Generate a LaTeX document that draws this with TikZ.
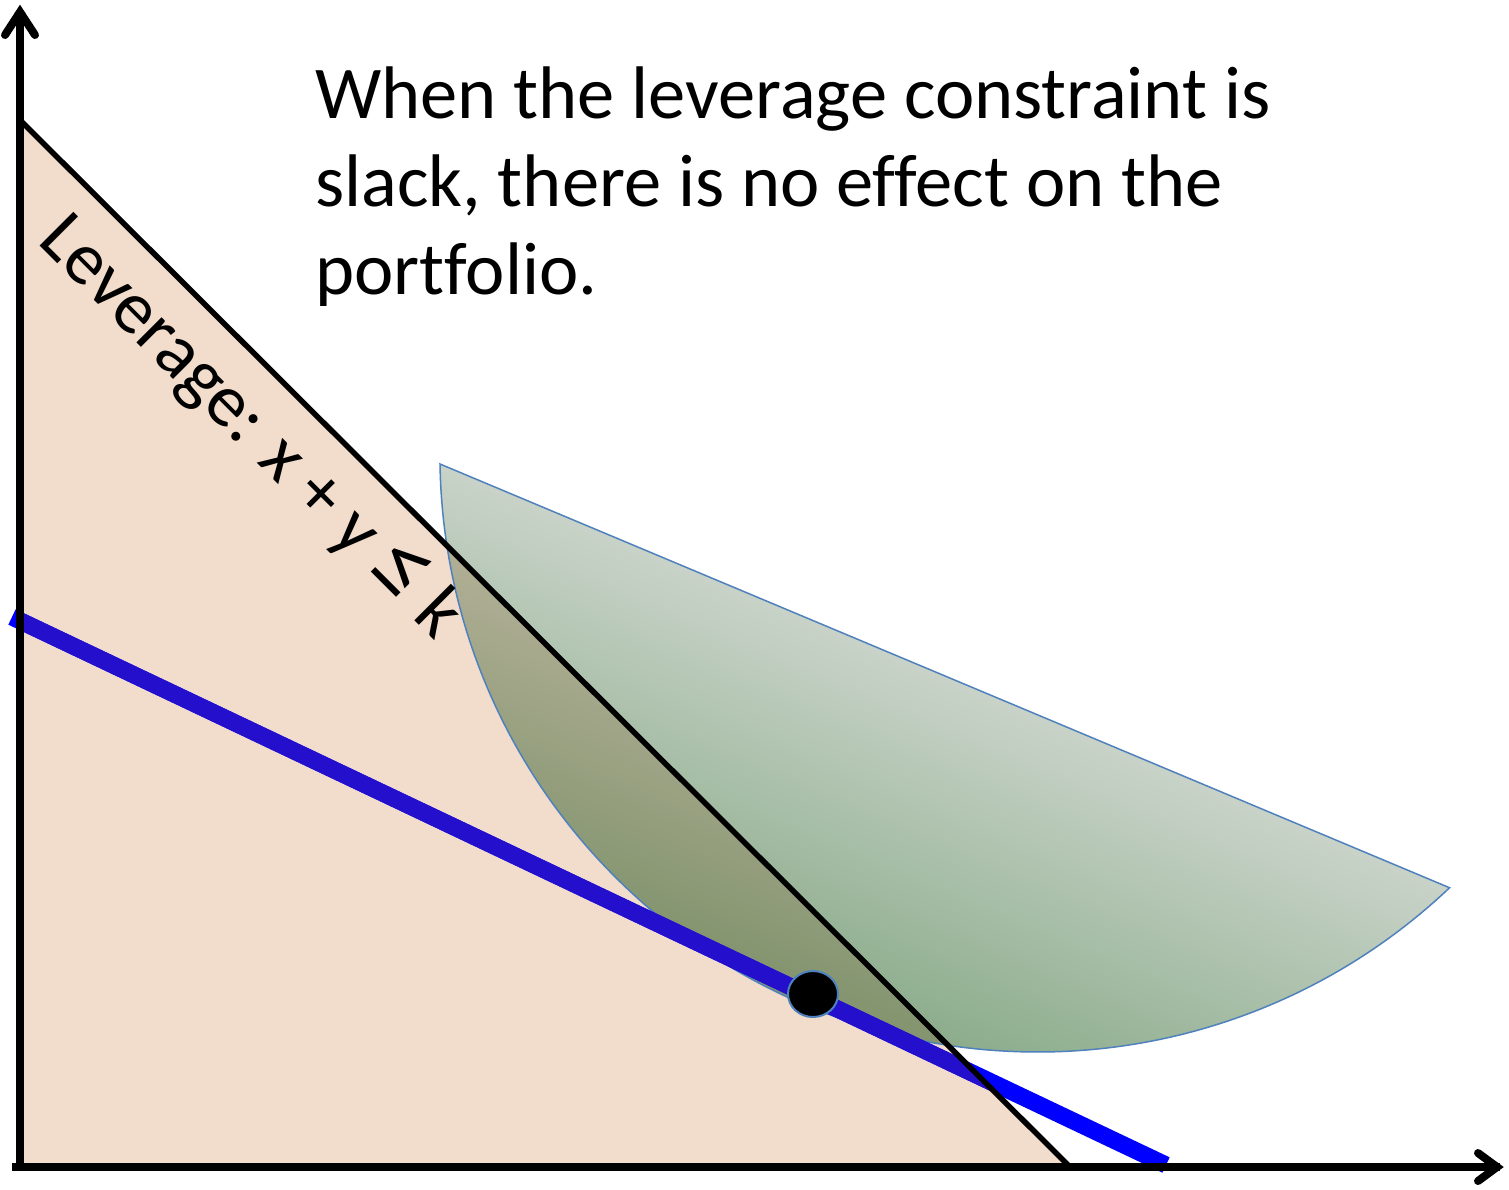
\documentclass[tikz,border=0pt]{standalone}
\usepackage{fontspec}
\setmainfont{Carlito}[Ligatures=NoCommon]
\usetikzlibrary{shapes.geometric}
\definecolor{peach}{HTML}{F2DDCC}
\definecolor{lineblue}{HTML}{0000FF}
\definecolor{darkblue}{HTML}{2410CC}
\definecolor{edgeblue}{HTML}{4F81BD}
\definecolor{greentop}{HTML}{C9D3C9}
\definecolor{greenbot}{HTML}{88AA88}
\definecolor{edgebrown}{HTML}{3A2418}
\tikzset{
  axisline/.style={black, line width=8pt},
  chevron/.style={black, line width=8pt, line cap=round, line join=miter},
  bigtext/.style={inner sep=0pt, font=\fontsize{74.5}{88}\selectfont},
}
\begin{document}
\begin{tikzpicture}[x=1pt,y=-1pt]
\useasboundingbox (0,0) rectangle (1509,1189);
\fill[white] (0,0) rectangle (1509,1189);
% key points
\coordinate (T1) at (22,122);
\coordinate (T2) at (22,1165);
\coordinate (T3) at (1068,1165);
\coordinate (B1) at (12,617);
\coordinate (B2) at (1166,1165);
\coordinate (G1) at (440,464);
\coordinate (O) at (20,1171);
\coordinate (Ytop) at (20,12);
\coordinate (X0) at (12,1167);
\coordinate (Xend) at (1500,1167);
% feasible triangle
\fill[peach] (T1) -- (T2) -- (T3) -- cycle;
\draw[edgebrown, line width=1.5pt] (T1) -- (T2) -- (T3);
% green region (gradient from chord to arc)
\begin{scope}[blend mode=multiply]
  \clip (G1) arc[start angle=179.04, end angle=46.5, radius=598] -- cycle;
  \begin{scope}[transform canvas={shift={(945,676)}, rotate=-22.8}]
    \shade[top color=greentop, bottom color=greenbot] (-700,-2) rectangle (700,360);
  \end{scope}
\end{scope}
\draw[edgeblue, line width=1.5pt]
    (G1) arc[start angle=179.04, end angle=46.5, radius=598] -- cycle;
% budget line
\draw[lineblue, line width=17pt] (B1) -- (B2);
\begin{scope}
  \clip (T1) -- (T2) -- (T3) -- cycle;
  \draw[darkblue, line width=17pt] (B1) -- (B2);
\end{scope}
% leverage line
\draw[black, line width=5.5pt] (T1) -- (T3);
% axes
\draw[axisline] (O) -- (Ytop);
\draw[axisline] (X0) -- (Xend);
\draw[chevron] (5,35) -- (20,12) -- (35,35);
\draw[chevron] (1478,1153) -- (1497,1167) -- (1478,1181);
% optimum point
\node[ellipse, fill=black, draw=edgeblue, line width=2pt, minimum width=50pt, minimum height=46pt, inner sep=0pt] (opt) at (813,994) {};
% texts
\node[bigtext, anchor=base west, align=left] (msg) at (315,294) {When the leverage constraint is\\slack, there is no effect on the\\portfolio.};
\node[bigtext, anchor=base west, rotate=-45] (lev) at (36,242) {Leverage: x + y {\fontsize{98}{98}\selectfont ≤} k};
\end{tikzpicture}
\end{document}
